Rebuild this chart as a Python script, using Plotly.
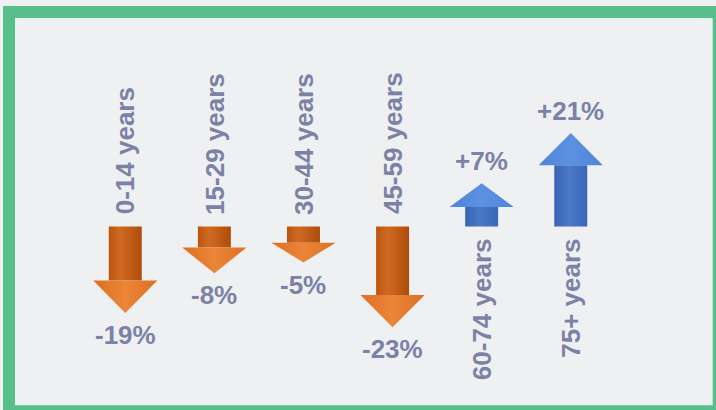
import plotly.graph_objects as go

# ---- data ----
age_groups = ["0-14 years", "15-29 years", "30-44 years", "45-59 years", "60-74 years", "75+ years"]
change_pct = [-19, -8, -5, -23, 7, 21]

# ---- styling ----
TEXT_COLOR = "#7b82a6"
BG = "#eff0f2"
FRAME = "#56bf8a"
FONT = "Liberation Sans, Arial, sans-serif"

ORANGE_SHAFT = [[0, "#bd540e"], [0.35, "#d06a22"], [1, "#ad4c0b"]]
ORANGE_HEAD = [[0, "#dc7024"], [0.5, "#eb8538"], [1, "#dc7024"]]
BLUE_SHAFT = [[0, "#3863b4"], [0.45, "#4a79c9"], [1, "#3a66b8"]]
BLUE_HEAD = [[0, "#4f84d8"], [0.5, "#5c91e2"], [1, "#4f84d8"]]

MIN_LEN = 5          # minimum arrow length (in % units) so small changes stay visible
SHAFT_HALF = 0.185   # half width of shaft in category units
HEAD_HALF = 0.36     # half width of head in category units
HEAD_MAX = 9         # maximum head height in % units

fig = go.Figure()

for i, v in enumerate(change_pct):
    sign = 1 if v > 0 else -1
    L = abs(v) + MIN_LEN
    tip = sign * L
    h = min(0.55 * L, HEAD_MAX)
    base = tip - sign * h
    shaft_cs = BLUE_SHAFT if v > 0 else ORANGE_SHAFT
    head_cs = BLUE_HEAD if v > 0 else ORANGE_HEAD
    # shaft
    fig.add_trace(go.Scatter(
        x=[i - SHAFT_HALF, i + SHAFT_HALF, i + SHAFT_HALF, i - SHAFT_HALF, i - SHAFT_HALF],
        y=[0, 0, base, base, 0],
        fill="toself", mode="lines", line=dict(width=0),
        fillgradient=dict(type="horizontal", colorscale=shaft_cs),
        hoverinfo="skip", showlegend=False))
    # head
    fig.add_trace(go.Scatter(
        x=[i - HEAD_HALF, i + HEAD_HALF, i, i - HEAD_HALF],
        y=[base, base, tip, base],
        fill="toself", mode="lines", line=dict(width=0),
        fillgradient=dict(type="horizontal", colorscale=head_cs),
        hoverinfo="skip", showlegend=False))
    # percentage label
    fig.add_annotation(x=i, y=tip, text=f"{v:+d}%", showarrow=False,
                       yanchor="middle", yshift=22 * sign,
                       font=dict(family=FONT, size=26, color=TEXT_COLOR, weight="bold"))
    # age group label (rotated)
    fig.add_annotation(x=i, y=0, text=age_groups[i], showarrow=False, textangle=-90,
                       yanchor="top" if v > 0 else "bottom", yshift=-10 if v > 0 else 10,
                       font=dict(family=FONT, size=26, color=TEXT_COLOR, weight="bold"))

W, H = 716, 410
fig.add_shape(type="rect", xref="paper", yref="paper",
              x0=9 / W, x1=718.7 / W, y0=-1.3 / H, y1=1 - 12 / H,
              line=dict(color=FRAME, width=12), fillcolor="rgba(0,0,0,0)", layer="above")

fig.update_layout(
    width=W, height=H,
    margin=dict(l=0, r=0, t=0, b=0),
    paper_bgcolor=BG, plot_bgcolor=BG,
    xaxis=dict(range=[-1.406, 6.630], visible=False, fixedrange=True),
    yaxis=dict(range=[-50.97, 62.92], visible=False, fixedrange=True),
    showlegend=False,
)

fig.write_html("out.html", config={"displayModeBar": False},
               post_script="document.body.style.margin='0';document.body.style.background='%s';" % BG)
